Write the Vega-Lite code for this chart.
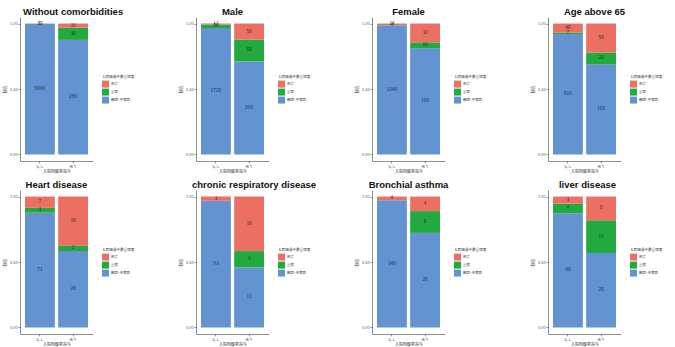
{
  "$schema": "https://vega.github.io/schema/vega-lite/v6.json",
  "padding": {"left": 3, "top": 6, "right": 0, "bottom": 0},
  "background": "white",
  "bounds": "flush",
  "data": {"values": [
    {"panel": "Without comorbidities", "group": "なし", "sev": "軽症-中等症", "count": 5000},
    {"panel": "Without comorbidities", "group": "なし", "sev": "重症", "count": 12},
    {"panel": "Without comorbidities", "group": "なし", "sev": "死亡", "count": 6},
    {"panel": "Without comorbidities", "group": "あり", "sev": "軽症-中等症", "count": 280},
    {"panel": "Without comorbidities", "group": "あり", "sev": "重症", "count": 30},
    {"panel": "Without comorbidities", "group": "あり", "sev": "死亡", "count": 10},
    {"panel": "Male", "group": "なし", "sev": "軽症-中等症", "count": 1728},
    {"panel": "Male", "group": "なし", "sev": "重症", "count": 50},
    {"panel": "Male", "group": "なし", "sev": "死亡", "count": 12},
    {"panel": "Male", "group": "あり", "sev": "軽症-中等症", "count": 290},
    {"panel": "Male", "group": "あり", "sev": "重症", "count": 68},
    {"panel": "Male", "group": "あり", "sev": "死亡", "count": 50},
    {"panel": "Female", "group": "なし", "sev": "軽症-中等症", "count": 1240},
    {"panel": "Female", "group": "なし", "sev": "重症", "count": 4},
    {"panel": "Female", "group": "なし", "sev": "死亡", "count": 14},
    {"panel": "Female", "group": "あり", "sev": "軽症-中等症", "count": 180},
    {"panel": "Female", "group": "あり", "sev": "重症", "count": 10},
    {"panel": "Female", "group": "あり", "sev": "死亡", "count": 32},
    {"panel": "Age above 65", "group": "なし", "sev": "軽症-中等症", "count": 610},
    {"panel": "Age above 65", "group": "なし", "sev": "重症", "count": 7},
    {"panel": "Age above 65", "group": "なし", "sev": "死亡", "count": 46},
    {"panel": "Age above 65", "group": "あり", "sev": "軽症-中等症", "count": 168},
    {"panel": "Age above 65", "group": "あり", "sev": "重症", "count": 22},
    {"panel": "Age above 65", "group": "あり", "sev": "死亡", "count": 54},
    {"panel": "Heart disease", "group": "なし", "sev": "軽症-中等症", "count": 71},
    {"panel": "Heart disease", "group": "なし", "sev": "重症", "count": 3},
    {"panel": "Heart disease", "group": "なし", "sev": "死亡", "count": 7},
    {"panel": "Heart disease", "group": "あり", "sev": "軽症-中等症", "count": 28},
    {"panel": "Heart disease", "group": "あり", "sev": "重症", "count": 2},
    {"panel": "Heart disease", "group": "あり", "sev": "死亡", "count": 18},
    {"panel": "chronic respiratory disease", "group": "なし", "sev": "軽症-中等症", "count": 93},
    {"panel": "chronic respiratory disease", "group": "なし", "sev": "死亡", "count": 3},
    {"panel": "chronic respiratory disease", "group": "あり", "sev": "軽症-中等症", "count": 11},
    {"panel": "chronic respiratory disease", "group": "あり", "sev": "重症", "count": 3},
    {"panel": "chronic respiratory disease", "group": "あり", "sev": "死亡", "count": 10},
    {"panel": "Bronchial asthma", "group": "なし", "sev": "軽症-中等症", "count": 140},
    {"panel": "Bronchial asthma", "group": "なし", "sev": "死亡", "count": 4},
    {"panel": "Bronchial asthma", "group": "あり", "sev": "軽症-中等症", "count": 26},
    {"panel": "Bronchial asthma", "group": "あり", "sev": "重症", "count": 6},
    {"panel": "Bronchial asthma", "group": "あり", "sev": "死亡", "count": 4},
    {"panel": "liver disease", "group": "なし", "sev": "軽症-中等症", "count": 48},
    {"panel": "liver disease", "group": "なし", "sev": "重症", "count": 4},
    {"panel": "liver disease", "group": "なし", "sev": "死亡", "count": 3},
    {"panel": "liver disease", "group": "あり", "sev": "軽症-中等症", "count": 25},
    {"panel": "liver disease", "group": "あり", "sev": "重症", "count": 11},
    {"panel": "liver disease", "group": "あり", "sev": "死亡", "count": 8}
  ]},
  "transform": [
    {"calculate": "indexof(['軽症-中等症','重症','死亡'], datum.sev)", "as": "rank"},
    {"joinaggregate": [{"op": "sum", "field": "count", "as": "total"}], "groupby": ["panel", "group"]},
    {"window": [{"op": "sum", "field": "count", "as": "cum"}], "groupby": ["panel", "group"], "sort": [{"field": "rank", "order": "ascending"}], "frame": [null, 0]},
    {"calculate": "(datum.cum - datum.count) / datum.total", "as": "y0"},
    {"calculate": "datum.cum / datum.total", "as": "y1"},
    {"calculate": "(datum.cum - datum.count / 2) / datum.total", "as": "ymid"}
  ],
  "columns": 4,
  "spacing": {"row": 29, "column": 103},
  "resolve": {"scale": {"color": "independent"}},
  "concat": [
    {"title": {"text": "Without comorbidities", "anchor": "start", "dx": 3}, "transform": [{"filter": "datum.panel === 'Without comorbidities'"}], "width": 73, "height": 144,
     "layer": [
      {"mark": {"type": "bar"}, "encoding": {
        "x": {"field": "group", "type": "nominal", "sort": ["なし", "あり"], "scale": {"paddingInner": 0.1, "paddingOuter": 0.15}, "title": "入院時酸素投与"},
        "y": {"field": "y0", "type": "quantitative", "scale": {"domain": [-0.05, 1.05], "nice": false, "zero": false}, "axis": {"values": [0, 0.25, 0.5, 0.75, 1], "format": ".2f"}, "title": "割合"},
        "y2": {"field": "y1"},
        "color": {"field": "sev", "type": "nominal", "scale": {"domain": ["死亡", "重症", "軽症-中等症"], "range": ["#EC6F64", "#22AA3E", "#6393D0"]}, "legend": {"orient": "none", "legendX": 82, "legendY": 58, "title": "入院経過中最重症度"}}}},
      {"mark": {"type": "text", "fontSize": 4.8, "color": "#1c2a40"}, "encoding": {
        "x": {"field": "group", "type": "nominal", "sort": ["なし", "あり"]},
        "y": {"field": "ymid", "type": "quantitative"},
        "text": {"field": "count"}}}
     ]},
    {"title": {"text": "Male"}, "transform": [{"filter": "datum.panel === 'Male'"}], "width": 73, "height": 144,
     "layer": [
      {"mark": {"type": "bar"}, "encoding": {
        "x": {"field": "group", "type": "nominal", "sort": ["なし", "あり"], "scale": {"paddingInner": 0.1, "paddingOuter": 0.15}, "title": "入院時酸素投与"},
        "y": {"field": "y0", "type": "quantitative", "scale": {"domain": [-0.05, 1.05], "nice": false, "zero": false}, "axis": {"values": [0, 0.25, 0.5, 0.75, 1], "format": ".2f"}, "title": "割合"},
        "y2": {"field": "y1"},
        "color": {"field": "sev", "type": "nominal", "scale": {"domain": ["死亡", "重症", "軽症-中等症"], "range": ["#EC6F64", "#22AA3E", "#6393D0"]}, "legend": {"orient": "none", "legendX": 82, "legendY": 58, "title": "入院経過中最重症度"}}}},
      {"mark": {"type": "text", "fontSize": 4.8, "color": "#1c2a40"}, "encoding": {
        "x": {"field": "group", "type": "nominal", "sort": ["なし", "あり"]},
        "y": {"field": "ymid", "type": "quantitative"},
        "text": {"field": "count"}}}
     ]},
    {"title": {"text": "Female"}, "transform": [{"filter": "datum.panel === 'Female'"}], "width": 73, "height": 144,
     "layer": [
      {"mark": {"type": "bar"}, "encoding": {
        "x": {"field": "group", "type": "nominal", "sort": ["なし", "あり"], "scale": {"paddingInner": 0.1, "paddingOuter": 0.15}, "title": "入院時酸素投与"},
        "y": {"field": "y0", "type": "quantitative", "scale": {"domain": [-0.05, 1.05], "nice": false, "zero": false}, "axis": {"values": [0, 0.25, 0.5, 0.75, 1], "format": ".2f"}, "title": "割合"},
        "y2": {"field": "y1"},
        "color": {"field": "sev", "type": "nominal", "scale": {"domain": ["死亡", "重症", "軽症-中等症"], "range": ["#EC6F64", "#22AA3E", "#6393D0"]}, "legend": {"orient": "none", "legendX": 82, "legendY": 58, "title": "入院経過中最重症度"}}}},
      {"mark": {"type": "text", "fontSize": 4.8, "color": "#1c2a40"}, "encoding": {
        "x": {"field": "group", "type": "nominal", "sort": ["なし", "あり"]},
        "y": {"field": "ymid", "type": "quantitative"},
        "text": {"field": "count"}}}
     ]},
    {"title": {"text": "Age above 65", "dx": 10}, "transform": [{"filter": "datum.panel === 'Age above 65'"}], "width": 73, "height": 144,
     "layer": [
      {"mark": {"type": "bar"}, "encoding": {
        "x": {"field": "group", "type": "nominal", "sort": ["なし", "あり"], "scale": {"paddingInner": 0.1, "paddingOuter": 0.15}, "title": "入院時酸素投与"},
        "y": {"field": "y0", "type": "quantitative", "scale": {"domain": [-0.05, 1.05], "nice": false, "zero": false}, "axis": {"values": [0, 0.25, 0.5, 0.75, 1], "format": ".2f"}, "title": "割合"},
        "y2": {"field": "y1"},
        "color": {"field": "sev", "type": "nominal", "scale": {"domain": ["死亡", "重症", "軽症-中等症"], "range": ["#EC6F64", "#22AA3E", "#6393D0"]}, "legend": {"orient": "none", "legendX": 82, "legendY": 58, "title": "入院経過中最重症度"}}}},
      {"mark": {"type": "text", "fontSize": 4.8, "color": "#1c2a40"}, "encoding": {
        "x": {"field": "group", "type": "nominal", "sort": ["なし", "あり"]},
        "y": {"field": "ymid", "type": "quantitative"},
        "text": {"field": "count"}}}
     ]},
    {"title": {"text": "Heart disease"}, "transform": [{"filter": "datum.panel === 'Heart disease'"}], "width": 73, "height": 144,
     "layer": [
      {"mark": {"type": "bar"}, "encoding": {
        "x": {"field": "group", "type": "nominal", "sort": ["なし", "あり"], "scale": {"paddingInner": 0.1, "paddingOuter": 0.15}, "title": "入院時酸素投与"},
        "y": {"field": "y0", "type": "quantitative", "scale": {"domain": [-0.05, 1.05], "nice": false, "zero": false}, "axis": {"values": [0, 0.25, 0.5, 0.75, 1], "format": ".2f"}, "title": "割合"},
        "y2": {"field": "y1"},
        "color": {"field": "sev", "type": "nominal", "scale": {"domain": ["死亡", "重症", "軽症-中等症"], "range": ["#EC6F64", "#22AA3E", "#6393D0"]}, "legend": {"orient": "none", "legendX": 82, "legendY": 58, "title": "入院経過中最重症度"}}}},
      {"mark": {"type": "text", "fontSize": 4.8, "color": "#1c2a40"}, "encoding": {
        "x": {"field": "group", "type": "nominal", "sort": ["なし", "あり"]},
        "y": {"field": "ymid", "type": "quantitative"},
        "text": {"field": "count"}}}
     ]},
    {"title": {"text": "chronic respiratory disease", "anchor": "start", "dx": -4}, "transform": [{"filter": "datum.panel === 'chronic respiratory disease'"}], "width": 73, "height": 144,
     "layer": [
      {"mark": {"type": "bar"}, "encoding": {
        "x": {"field": "group", "type": "nominal", "sort": ["なし", "あり"], "scale": {"paddingInner": 0.1, "paddingOuter": 0.15}, "title": "入院時酸素投与"},
        "y": {"field": "y0", "type": "quantitative", "scale": {"domain": [-0.05, 1.05], "nice": false, "zero": false}, "axis": {"values": [0, 0.25, 0.5, 0.75, 1], "format": ".2f"}, "title": "割合"},
        "y2": {"field": "y1"},
        "color": {"field": "sev", "type": "nominal", "scale": {"domain": ["死亡", "重症", "軽症-中等症"], "range": ["#EC6F64", "#22AA3E", "#6393D0"]}, "legend": {"orient": "none", "legendX": 82, "legendY": 58, "title": "入院経過中最重症度"}}}},
      {"mark": {"type": "text", "fontSize": 4.8, "color": "#1c2a40"}, "encoding": {
        "x": {"field": "group", "type": "nominal", "sort": ["なし", "あり"]},
        "y": {"field": "ymid", "type": "quantitative"},
        "text": {"field": "count"}}}
     ]},
    {"title": {"text": "Bronchial asthma"}, "transform": [{"filter": "datum.panel === 'Bronchial asthma'"}], "width": 73, "height": 144,
     "layer": [
      {"mark": {"type": "bar"}, "encoding": {
        "x": {"field": "group", "type": "nominal", "sort": ["なし", "あり"], "scale": {"paddingInner": 0.1, "paddingOuter": 0.15}, "title": "入院時酸素投与"},
        "y": {"field": "y0", "type": "quantitative", "scale": {"domain": [-0.05, 1.05], "nice": false, "zero": false}, "axis": {"values": [0, 0.25, 0.5, 0.75, 1], "format": ".2f"}, "title": "割合"},
        "y2": {"field": "y1"},
        "color": {"field": "sev", "type": "nominal", "scale": {"domain": ["死亡", "重症", "軽症-中等症"], "range": ["#EC6F64", "#22AA3E", "#6393D0"]}, "legend": {"orient": "none", "legendX": 82, "legendY": 58, "title": "入院経過中最重症度"}}}},
      {"mark": {"type": "text", "fontSize": 4.8, "color": "#1c2a40"}, "encoding": {
        "x": {"field": "group", "type": "nominal", "sort": ["なし", "あり"]},
        "y": {"field": "ymid", "type": "quantitative"},
        "text": {"field": "count"}}}
     ]},
    {"title": {"text": "liver disease", "dx": 3}, "transform": [{"filter": "datum.panel === 'liver disease'"}], "width": 73, "height": 144,
     "layer": [
      {"mark": {"type": "bar"}, "encoding": {
        "x": {"field": "group", "type": "nominal", "sort": ["なし", "あり"], "scale": {"paddingInner": 0.1, "paddingOuter": 0.15}, "title": "入院時酸素投与"},
        "y": {"field": "y0", "type": "quantitative", "scale": {"domain": [-0.05, 1.05], "nice": false, "zero": false}, "axis": {"values": [0, 0.25, 0.5, 0.75, 1], "format": ".2f"}, "title": "割合"},
        "y2": {"field": "y1"},
        "color": {"field": "sev", "type": "nominal", "scale": {"domain": ["死亡", "重症", "軽症-中等症"], "range": ["#EC6F64", "#22AA3E", "#6393D0"]}, "legend": {"orient": "none", "legendX": 82, "legendY": 58, "title": "入院経過中最重症度"}}}},
      {"mark": {"type": "text", "fontSize": 4.8, "color": "#1c2a40"}, "encoding": {
        "x": {"field": "group", "type": "nominal", "sort": ["なし", "あり"]},
        "y": {"field": "ymid", "type": "quantitative"},
        "text": {"field": "count"}}}
     ]}
  ],
  "config": {
    "font": "Noto Sans CJK JP",
    "view": {"stroke": null},
    "title": {"font": "Liberation Sans", "fontSize": 9.5, "fontWeight": "bold", "color": "#111", "offset": 1, "anchor": "middle", "frame": "group"},
    "axis": {"grid": false, "labelFontSize": 3.8, "titleFontSize": 4, "titleFontWeight": "normal", "labelColor": "#555", "titleColor": "#333", "domainColor": "#444", "tickColor": "#444", "tickSize": 2, "domainWidth": 0.6, "tickWidth": 0.6, "labelPadding": 1, "titlePadding": 2},
    "axisX": {"labelAngle": 0},
    "legend": {"titleFontSize": 3.6, "labelFontSize": 3.6, "titleFontWeight": "normal", "titleColor": "#333", "labelColor": "#333", "symbolType": "square", "symbolSize": 49, "symbolStrokeWidth": 0, "titlePadding": 2, "rowPadding": 1, "labelOffset": 2}
  }
}
